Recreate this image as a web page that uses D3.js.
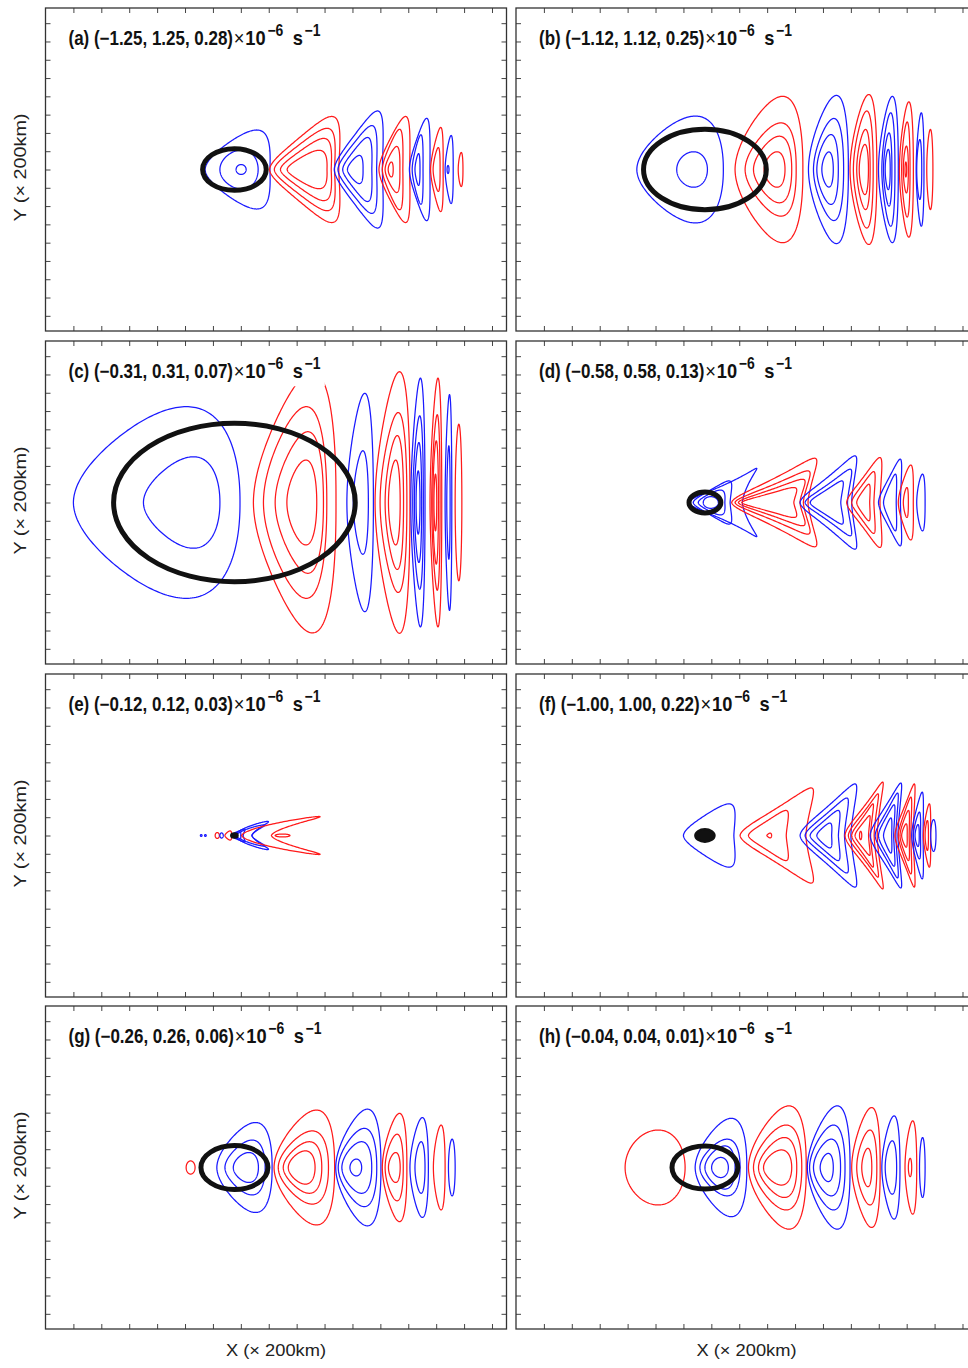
<!DOCTYPE html>
<html>
<head>
<meta charset="utf-8">
<script src="https://cdn.jsdelivr.net/npm/d3@7"></script>
<style>
  body { margin: 0; background: #fff; }
  svg { display: block; }
</style>
</head>
<body>
<svg id="fig" width="968" height="1368"></svg>
<script>
// ---- panel labels and (min, max, interval) of each field, ×10^-6 s^-1 ----
const panelIds = ["a", "b", "c", "d", "e", "f", "g", "h"];
const fieldRanges = [
  ["−1.25", "1.25", "0.28"],
  ["−1.12", "1.12", "0.25"],
  ["−0.31", "0.31", "0.07"],
  ["−0.58", "0.58", "0.13"],
  ["−0.12", "0.12", "0.03"],
  ["−1.00", "1.00", "0.22"],
  ["−0.26", "0.26", "0.06"],
  ["−0.04", "0.04", "0.01"]
];

// ---- heating circle (× 200 km): centre x and radius per panel ----
const circleX = 6.77;
const circleR = [1.14, 2.2, 4.33, 0.57, 0.12, 0.35, 1.2, 1.18];

// ---- tick values (× 200 km) ----
const xTickValues = [1, 2, 3, 4, 5, 6, 7, 8, 9, 10, 11, 12, 13, 14, 15, 16];
const yTickValues = [-8, -7, -6, -5, -4, -3, -2, -1, 0, 1, 2, 3, 4, 5, 6, 7, 8];

// ---- closed contour loops: [left x, right x, half height, taper, bend, sign] ----
const loopsA = [
  [6.83, 7.19, 0.27, 0, 0, -1],
  [6.25, 7.62, 1.07, 0.15, 0, -1],
  [5.72, 8.05, 2.16, 0.3, 0.35, -1],
  [8.03, 10.55, 2.9, 0.45, 0.5, 1],
  [8.20, 10.38, 2.25, 0.45, 0.45, 1],
  [8.42, 10.25, 1.7, 0.45, 0.4, 1],
  [8.66, 10.09, 1.05, 0.4, 0.3, 1],
  [10.35, 12.10, 3.2, 0.45, 0.5, -1],
  [10.48, 11.88, 2.4, 0.45, 0.45, -1],
  [10.65, 11.70, 1.75, 0.45, 0.4, -1],
  [10.82, 11.38, 0.77, 0.35, 0.25, -1],
  [11.95, 13.06, 2.9, 0.4, 0.45, 1],
  [12.07, 12.81, 2.2, 0.4, 0.4, 1],
  [12.17, 12.70, 1.26, 0.35, 0.3, 1],
  [12.28, 12.46, 0.41, 0.2, 0.1, 1],
  [13.04, 13.78, 2.8, 0.4, 0.4, -1],
  [13.14, 13.53, 1.9, 0.35, 0.35, -1],
  [13.24, 13.42, 0.87, 0.3, 0.2, -1],
  [13.80, 14.25, 2.3, 0.35, 0.35, 1],
  [13.89, 14.14, 1.2, 0.3, 0.25, 1],
  [14.32, 14.61, 1.86, 0.3, 0.25, -1],
  [14.39, 14.46, 0.22, 0, 0, -1],
  [14.79, 14.96, 0.93, 0.2, 0.1, 1]
];

const loopsB = [
  [5.76, 6.86, 0.97, 0.1, 0, -1],
  [4.33, 7.43, 2.92, 0.3, 0.1, -1],
  [7.85, 10.28, 4.0, 0.3, 0.15, 1],
  [8.21, 10.04, 2.55, 0.3, 0.15, 1],
  [8.51, 9.88, 1.82, 0.3, 0.1, 1],
  [8.89, 9.64, 0.97, 0.2, 0.05, 1],
  [10.48, 11.91, 4.05, 0.3, 0.15, -1],
  [10.66, 11.74, 2.79, 0.3, 0.1, -1],
  [10.78, 11.55, 1.91, 0.25, 0.1, -1],
  [10.96, 11.37, 0.96, 0.2, 0.05, -1],
  [11.97, 12.93, 4.1, 0.3, 0.15, 1],
  [12.09, 12.80, 3.2, 0.3, 0.1, 1],
  [12.21, 12.69, 2.19, 0.25, 0.1, 1],
  [12.30, 12.63, 1.37, 0.2, 0.05, 1],
  [12.99, 13.70, 4.0, 0.3, 0.15, -1],
  [13.11, 13.58, 3.1, 0.3, 0.1, -1],
  [13.17, 13.47, 2.0, 0.25, 0.1, -1],
  [13.23, 13.41, 1.1, 0.2, 0.05, -1],
  [13.74, 14.24, 3.7, 0.3, 0.1, 1],
  [13.82, 14.12, 2.6, 0.25, 0.1, 1],
  [13.88, 14.06, 1.28, 0.2, 0.05, 1],
  [13.94, 14.00, 0.41, 0, 0, 1],
  [14.34, 14.62, 3.1, 0.25, 0.1, -1],
  [14.36, 14.54, 1.64, 0.2, 0.05, -1],
  [14.72, 14.94, 2.19, 0.2, 0, 1]
];

const loopsC = [
  [1.00, 6.97, 5.24, 0.3, 0.1, -1],
  [3.51, 6.25, 2.5, 0.3, 0.05, -1],
  [7.45, 10.41, 7.13, 0.35, 0.15, 1],
  [7.81, 10.08, 5.24, 0.3, 0.1, 1],
  [8.23, 9.96, 3.87, 0.3, 0.1, 1],
  [8.65, 9.72, 2.32, 0.25, 0.05, 1],
  [10.80, 11.75, 5.97, 0.3, 0.1, -1],
  [11.03, 11.57, 2.83, 0.25, 0.05, -1],
  [11.81, 13.06, 7.15, 0.3, 0.15, 1],
  [11.99, 12.95, 4.92, 0.3, 0.1, 1],
  [12.17, 12.83, 3.66, 0.25, 0.1, 1],
  [12.29, 12.71, 2.32, 0.2, 0.05, 1],
  [13.09, 13.60, 6.8, 0.3, 0.1, -1],
  [13.16, 13.54, 4.74, 0.25, 0.1, -1],
  [13.22, 13.48, 3.28, 0.2, 0.05, -1],
  [13.28, 13.42, 1.73, 0.1, 0, -1],
  [13.78, 14.20, 6.8, 0.3, 0.1, 1],
  [13.84, 14.14, 4.8, 0.25, 0.1, 1],
  [13.88, 14.08, 3.37, 0.2, 0.05, 1],
  [13.92, 14.02, 1.55, 0.1, 0, 1],
  [14.32, 14.56, 5.9, 0.25, 0.1, -1],
  [14.38, 14.50, 3.1, 0.2, 0.05, -1],
  [14.68, 14.92, 4.28, 0.1, 0, 1]
];

const loopsD = [
  [6.71, 7.25, 0.32, 0, 0, -1],
  [6.53, 7.49, 0.68, 0.35, 0.4, -1],
  [6.35, 7.73, 1.18, 0.45, 0.65, -1],
  [6.18, 8.63, 1.87, 0.5, 1.3, -1],
  [7.73, 10.78, 2.42, 0.5, 0.9, 1],
  [7.85, 10.54, 1.73, 0.5, 0.85, 1],
  [7.97, 10.36, 1.27, 0.5, 0.8, 1],
  [8.09, 10.06, 0.82, 0.5, 0.7, 1],
  [10.18, 12.21, 2.55, 0.5, 0.85, -1],
  [10.36, 12.03, 1.82, 0.5, 0.85, -1],
  [10.54, 11.73, 1.18, 0.45, 0.8, -1],
  [11.85, 13.11, 2.46, 0.5, 0.7, 1],
  [12.03, 12.87, 1.69, 0.45, 0.7, 1],
  [12.21, 12.69, 1.0, 0.4, 0.6, 1],
  [12.99, 13.82, 2.37, 0.45, 0.7, -1],
  [13.17, 13.64, 1.55, 0.4, 0.6, -1],
  [13.70, 14.24, 2.05, 0.35, 0.4, 1],
  [13.88, 14.06, 0.82, 0.2, 0.25, 1],
  [14.36, 14.66, 1.55, 0.2, 0.2, -1]
];

const loopsE = [
  [5.55, 5.61, 0.05, 0, 0, -1],
  [5.70, 5.76, 0.05, 0, 0, -1],
  [6.08, 6.23, 0.16, 0, 0, 1],
  [6.25, 6.37, 0.14, 0, 0, -1],
  [6.43, 6.67, 0.25, 0.3, 0.3, 1],
  [6.65, 7.15, 0.35, 0.3, 1.0, -1],
  [6.72, 7.00, 0.2, 0.2, 0.5, -1],
  [6.79, 7.99, 0.77, 0, 2.8, -1],
  [6.85, 7.86, 0.58, 0, 2.6, -1],
  [7.03, 9.84, 1.04, 0, 4.2, 1],
  [8.23, 8.76, 0.08, 0, 0, 1]
];

const loopsF = [
  [6.00, 7.85, 1.73, 0.35, 0.55, -1],
  [8.03, 10.66, 2.6, 0.45, 0.9, 1],
  [8.33, 9.76, 1.37, 0.45, 0.7, 1],
  [8.99, 9.16, 0.13, 0.5, 0, 1],
  [10.18, 12.21, 2.82, 0.45, 0.9, -1],
  [10.36, 11.91, 2.05, 0.45, 0.85, -1],
  [10.54, 11.61, 1.37, 0.45, 0.7, -1],
  [10.78, 11.32, 0.68, 0.35, 0.5, -1],
  [11.79, 13.16, 2.92, 0.45, 1.1, 1],
  [11.91, 12.99, 2.28, 0.45, 1.05, 1],
  [12.03, 12.81, 1.73, 0.45, 1.0, 1],
  [12.15, 12.69, 1.09, 0.4, 0.9, 1],
  [12.31, 12.39, 0.23, 0, 0, 1],
  [12.69, 13.82, 2.87, 0.45, 0.95, -1],
  [12.87, 13.70, 2.32, 0.45, 0.9, -1],
  [12.99, 13.58, 1.68, 0.4, 0.8, -1],
  [13.17, 13.47, 0.96, 0.35, 0.55, -1],
  [13.58, 14.30, 2.82, 0.45, 0.85, 1],
  [13.70, 14.18, 2.1, 0.4, 0.75, 1],
  [13.76, 14.10, 1.37, 0.35, 0.6, 1],
  [13.82, 14.02, 0.64, 0.3, 0.4, 1],
  [14.18, 14.60, 2.37, 0.35, 0.6, -1],
  [14.24, 14.50, 1.28, 0.3, 0.45, -1],
  [14.30, 14.45, 0.6, 0.2, 0.25, -1],
  [14.60, 14.86, 1.73, 0.3, 0.4, 1],
  [14.66, 14.78, 0.82, 0.2, 0.2, 1],
  [14.86, 15.05, 0.87, 0.1, 0, -1]
];

const loopsG = [
  [5.04, 5.36, 0.36, 0, 0, 1],
  [6.14, 8.12, 2.46, 0.3, 0.15, -1],
  [6.43, 7.87, 1.5, 0.3, 0.1, -1],
  [6.73, 7.63, 0.82, 0.2, 0.05, -1],
  [8.19, 10.36, 3.14, 0.3, 0.15, 1],
  [8.34, 10.14, 2.0, 0.3, 0.1, 1],
  [8.52, 9.90, 1.41, 0.3, 0.1, 1],
  [8.70, 9.66, 0.91, 0.25, 0.05, 1],
  [10.40, 12.02, 3.19, 0.3, 0.15, -1],
  [10.49, 11.87, 2.14, 0.3, 0.1, -1],
  [10.62, 11.69, 1.41, 0.25, 0.1, -1],
  [10.91, 11.33, 0.46, 0.1, 0, -1],
  [12.07, 12.95, 2.96, 0.3, 0.15, 1],
  [12.17, 12.82, 1.82, 0.25, 0.1, 1],
  [12.29, 12.71, 0.82, 0.2, 0.05, 1],
  [13.06, 13.72, 2.73, 0.3, 0.1, -1],
  [13.24, 13.60, 1.41, 0.2, 0.05, -1],
  [13.90, 14.32, 2.32, 0.25, 0.1, 1],
  [14.44, 14.68, 1.55, 0.1, 0, -1]
];

const loopsH = [
  [3.91, 6.06, 2.05, 0.1, 0, 1],
  [6.42, 8.27, 2.69, 0.3, 0.15, -1],
  [6.59, 8.03, 1.55, 0.3, 0.1, -1],
  [6.77, 7.85, 1.18, 0.25, 0.1, -1],
  [7.01, 7.61, 0.55, 0.1, 0, -1],
  [8.33, 10.40, 3.37, 0.3, 0.15, 1],
  [8.51, 10.24, 2.32, 0.3, 0.1, 1],
  [8.69, 10.06, 1.64, 0.3, 0.1, 1],
  [8.87, 9.88, 0.96, 0.25, 0.05, 1],
  [10.44, 11.97, 3.37, 0.3, 0.15, -1],
  [10.52, 11.79, 2.32, 0.3, 0.1, -1],
  [10.66, 11.63, 1.55, 0.25, 0.1, -1],
  [10.90, 11.37, 0.77, 0.2, 0.05, -1],
  [12.03, 13.05, 3.28, 0.3, 0.15, 1],
  [12.21, 12.93, 2.05, 0.25, 0.1, 1],
  [12.39, 12.75, 1.05, 0.2, 0.05, 1],
  [13.11, 13.76, 2.82, 0.3, 0.1, -1],
  [13.23, 13.64, 1.46, 0.2, 0.05, -1],
  [13.94, 14.36, 2.55, 0.25, 0.1, 1],
  [14.06, 14.18, 0.5, 0.1, 0, 1],
  [14.46, 14.66, 1.64, 0.1, 0, -1]
];

const panelLoops = [loopsA, loopsB, loopsC, loopsD, loopsE, loopsF, loopsG, loopsH];

// ---- layout ----
const colLeft = [45.5, 516];
const rowTop = [8, 341, 674, 1006];
const panelW = 461, panelH = 323;
const xDomain = [0, 16.52];
const yDomain = [-8.83, 8.83];

const titleFont = "'Liberation Sans', Arial, sans-serif";
const labelFont = "'Liberation Sans', Arial, sans-serif";

const signColor = d3.scaleOrdinal().domain([1, -1]).range(["#ff1a1a", "#1a1aff"]);

const svg = d3.select("#fig");
const defs = svg.append("defs");

// Build one closed loop in data coordinates from its extents and shape factors
function loopCoords(row) {
  const [x0, x1, h, taper, bend] = row;
  const BEND_EXP = 1.6, N = 240;
  const raw = d3.range(N).map(i => {
    const th = 2 * Math.PI * i / N, c = Math.cos(th), s = Math.sin(th);
    return [c + bend * Math.pow(Math.abs(s), BEND_EXP), s * (1 + taper * c)];
  });
  const [mn, mx] = d3.extent(raw, p => p[0]);
  const my = d3.max(raw, p => Math.abs(p[1]));
  return raw.map(([px, py]) => [x0 + (px - mn) / (mx - mn) * (x1 - x0), py / my * h]);
}

panelIds.forEach((id, i) => {
  const col = i % 2, row = Math.floor(i / 2);
  const left = colLeft[col], top = rowTop[row];
  const x = d3.scaleLinear().domain(xDomain).range([left, left + panelW]);
  const y = d3.scaleLinear().domain(yDomain).range([top + panelH, top]);

  const g = svg.append("g").attr("class", "panel-" + id);

  defs.append("clipPath").attr("id", "clip-" + id)
    .append("rect").attr("x", left).attr("y", top).attr("width", panelW).attr("height", panelH);

  const plot = g.append("g").attr("clip-path", `url(#clip-${id})`);
  const line = d3.line().x(d => x(d[0])).y(d => y(d[1])).curve(d3.curveLinearClosed);

  plot.selectAll("path.loop").data(panelLoops[i]).join("path")
    .attr("class", "loop")
    .attr("d", d => line(loopCoords(d)))
    .attr("fill", "none")
    .attr("stroke", d => signColor(d[5]))
    .attr("stroke-width", 1.25)
    .attr("stroke-linejoin", "round");

  // heating circle (small ones read as solid blobs)
  const r = circleR[i];
  const small = r < 0.4;
  plot.append("ellipse")
    .attr("cx", x(circleX)).attr("cy", y(0))
    .attr("rx", x(circleX + r) - x(circleX))
    .attr("ry", y(0) - y(r))
    .attr("fill", small ? "#111" : "none")
    .attr("stroke", "#111")
    .attr("stroke-width", small ? 2 : 5);

  // title (condensed horizontally) with a white backing box
  const tg = g.append("g").attr("transform", `translate(${left + 23},${top + 37}) scale(0.87,1)`);
  const rg = fieldRanges[i];
  const t = tg.append("text")
    .attr("x", 0).attr("y", 0)
    .attr("font-family", titleFont).attr("font-size", 19.5).attr("font-weight", "bold")
    .attr("fill", "#111");
  t.append("tspan").text(`(${id}) (${rg[0]}, ${rg[1]}, ${rg[2]})`);
  t.append("tspan").attr("dx", 1).attr("font-weight", "normal").attr("font-size", 21).text("×");
  t.append("tspan").attr("dx", 1).attr("font-size", 21).text("10");
  t.append("tspan").attr("dx", 2).attr("dy", -9).attr("font-size", 16).text("−6");
  t.append("tspan").attr("dx", 5).attr("dy", 9).attr("font-size", 21).text(" s");
  t.append("tspan").attr("dx", 2).attr("dy", -9).attr("font-size", 16).text("−1");
  const bb = t.node().getBBox();
  tg.insert("rect", "text")
    .attr("x", bb.x - 5).attr("y", bb.y - 2)
    .attr("width", bb.width + 10).attr("height", bb.height + 6)
    .attr("fill", "#fff");

  // frame with inward ticks on all four sides
  const axisStyle = sel => {
    sel.select(".domain").remove();
    sel.selectAll(".tick line").attr("stroke", "#444").attr("stroke-width", 1);
  };
  g.append("g").attr("transform", `translate(0,${top + panelH})`)
    .call(d3.axisBottom(x).tickValues(xTickValues).tickSize(-5).tickFormat("")).call(axisStyle);
  g.append("g").attr("transform", `translate(0,${top})`)
    .call(d3.axisTop(x).tickValues(xTickValues).tickSize(-5).tickFormat("")).call(axisStyle);
  g.append("g").attr("transform", `translate(${left},0)`)
    .call(d3.axisLeft(y).tickValues(yTickValues).tickSize(-5).tickFormat("")).call(axisStyle);
  g.append("g").attr("transform", `translate(${left + panelW},0)`)
    .call(d3.axisRight(y).tickValues(yTickValues).tickSize(-5).tickFormat("")).call(axisStyle);

  g.append("rect")
    .attr("x", left).attr("y", top).attr("width", panelW).attr("height", panelH)
    .attr("fill", "none").attr("stroke", "#333").attr("stroke-width", 1.3);

  // axis titles
  if (col === 0) {
    svg.append("text")
      .attr("transform", `translate(26,${top + panelH / 2 - 2}) rotate(-90)`)
      .attr("text-anchor", "middle")
      .attr("font-family", labelFont)
      .attr("font-size", 16.5)
      .attr("textLength", 108).attr("lengthAdjust", "spacingAndGlyphs")
      .attr("fill", "#222")
      .text("Y (× 200km)");
  }
  if (row === 3) {
    svg.append("text")
      .attr("x", left + panelW / 2).attr("y", 1356)
      .attr("text-anchor", "middle")
      .attr("font-family", labelFont)
      .attr("font-size", 16.5)
      .attr("textLength", 100).attr("lengthAdjust", "spacingAndGlyphs")
      .attr("fill", "#222")
      .text("X (× 200km)");
  }
});
</script>
</body>
</html>
